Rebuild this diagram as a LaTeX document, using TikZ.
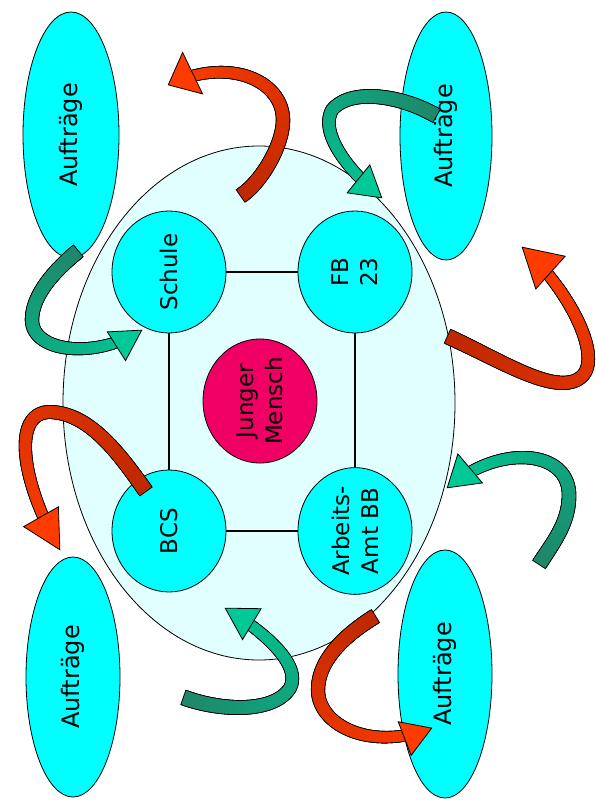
\documentclass[tikz,border=0pt]{standalone}
\usepackage{fontspec}
\newfontfamily\dvs{DejaVu Sans}
\usetikzlibrary{shapes.geometric,decorations.markings}
\definecolor{cyanfill}{RGB}{0,255,255}
\definecolor{lightfill}{RGB}{226,255,255}
\definecolor{pinkfill}{RGB}{240,0,100}
\definecolor{redtail}{RGB}{190,40,0}
\definecolor{redhead}{RGB}{255,60,0}
\definecolor{tealtail}{RGB}{30,135,105}
\definecolor{tealhead}{RGB}{0,200,150}
% #1 tail colour, #2 head colour, #3 head length, #4 half head width, #5 path
\newcommand\curvedarrow[5]{%
  \colorlet{ctail}{#1}\colorlet{chead}{#2}%
  \path[decorate,decoration={markings,
    mark=between positions 0 and -#3pt step 1pt with {%
      \pgfmathsetmacro\myfr{\pgfkeysvalueof{/pgf/decoration/mark info/distance from start}/\pgfdecoratedpathlength}%
      \pgfmathsetmacro\myhw{7.9-2.2*\myfr}%
      \fill[black] (-2.2pt,-\myhw pt) rectangle (1.3pt,\myhw pt);}}] #5;
  \path[decorate,decoration={markings,
    mark=between positions 0 and -#3pt step 1pt with {%
      \pgfmathsetmacro\myfr{\pgfkeysvalueof{/pgf/decoration/mark info/distance from start}/\pgfdecoratedpathlength}%
      \pgfmathsetmacro\myhw{7-2.2*\myfr}%
      \pgfmathtruncatemacro\mypct{100*\myfr}%
      \fill[chead!\mypct!ctail] (-1.3pt,-\myhw pt) rectangle (1.3pt,\myhw pt);}}] #5;
  \path[decorate,decoration={markings,
    mark=at position -0.3pt with {%
      \filldraw[fill=chead,draw=black,line width=0.8pt,line join=miter]
        (0pt,0pt) -- (-#3pt,#4pt) -- (-#3pt,-#4pt) -- cycle;}}] #5;
}
\tikzset{
  orgcirc/.style={ellipse, draw=black, line width=0.8pt, fill=cyanfill, inner sep=0pt,
    minimum width=122pt, minimum height=114pt, rotate=90, align=center,
    font=\dvs\fontsize{23}{29}\selectfont},
  auftrag/.style={ellipse, draw=black, line width=0.8pt, fill=cyanfill, inner sep=0pt,
    rotate=90, font=\dvs\fontsize{24}{28}\selectfont},
  outerring/.style={ellipse, draw=black, line width=0.8pt, fill=lightfill, inner sep=0pt,
    minimum width=392pt, minimum height=514pt},
  link/.style={draw=black, line width=1.2pt},
}
\begin{document}
\begin{tikzpicture}[x=1pt,y=-1pt]
\fill[white] (0,0) rectangle (595,802);
\useasboundingbox (0,0) rectangle (595,802);

\node[outerring] (outer) at (259,403) {};

\node[orgcirc] (schule) at (169,272) {Schule};
\node[orgcirc] (fb) at (355,272) {FB\\23};
\node[orgcirc] (bcs) at (169,531) {BCS};
\node[orgcirc] (amt) at (355,531) {Arbeits-\\Amt BB};
\node[orgcirc, fill=pinkfill] (jm) at (260,401) {Junger\\Mensch};

\draw[link] (schule) -- (fb);
\draw[link] (schule) -- (bcs);
\draw[link] (bcs) -- (amt);
\draw[link] (fb) -- (amt);

\node[auftrag, minimum width=246pt, minimum height=96pt] (a1) at (71,135) {Aufträge};
\node[auftrag, minimum width=248pt, minimum height=92pt] (a2) at (446,136) {Aufträge};
\node[auftrag, minimum width=240pt, minimum height=94pt] (a3) at (73,677) {Aufträge};
\node[auftrag, minimum width=248pt, minimum height=94pt] (a4) at (445,674) {Aufträge};

% red arrows
\curvedarrow{redtail}{redhead}{27}{23}{(242,195) .. controls (262,181) and (283,145) .. (283,120) .. controls (283,80) and (228,56) .. (168,85)}
\curvedarrow{redtail}{redhead}{38}{22}{(449,337) .. controls (500,360) and (555,396) .. (580,378) .. controls (605,360) and (570,290) .. (522,247)}
\curvedarrow{redtail}{redhead}{29}{18}{(374,617) .. controls (345,635) and (318,660) .. (318,690) .. controls (318,725) and (370,752) .. (432,728)}
\curvedarrow{redtail}{redhead}{38}{20}{(145,490) .. controls (120,455) and (90,413) .. (50,412) .. controls (12,412) and (20,480) .. (60,550)}
% teal arrows
\curvedarrow{tealtail}{tealhead}{30}{17}{(77,252) .. controls (55,270) and (32,295) .. (32,320) .. controls (32,352) and (95,360) .. (142,330)}
\curvedarrow{tealtail}{tealhead}{30}{18}{(435,115) .. controls (400,95) and (350,88) .. (332,110) .. controls (320,132) and (345,168) .. (382,198)}
\curvedarrow{tealtail}{tealhead}{30}{19}{(540,563) .. controls (555,540) and (569,522) .. (569,495) .. controls (569,450) and (500,443) .. (447,488)}
\curvedarrow{tealtail}{tealhead}{31}{18}{(185,698) .. controls (225,712) and (275,712) .. (290,688) .. controls (302,665) and (265,632) .. (225,608)}
\end{tikzpicture}
\end{document}
